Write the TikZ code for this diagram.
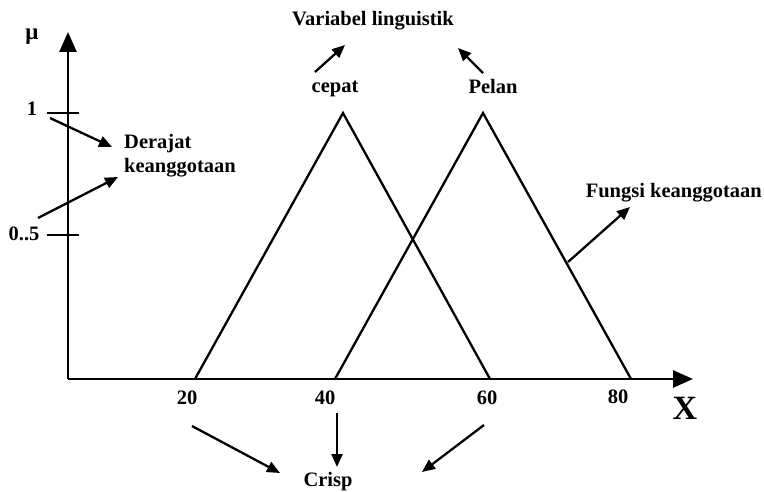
\documentclass[tikz,border=0pt]{standalone}
\usepackage{fontspec}
\setmainfont{Liberation Serif}
\usetikzlibrary{arrows.meta}
\begin{document}
\begin{tikzpicture}[x=1pt,y=-1pt,
  lbl/.style={font=\fontsize{20.5}{22}\selectfont\bfseries, inner sep=0pt},
  lblr/.style={font=\fontsize{20.5}{24}\selectfont\bfseries, inner sep=0pt, align=left},
  axisline/.style={line width=2.6pt, -{Triangle[length=20pt,width=17pt]}},
  arr/.style={line width=2.3pt, -{Triangle[length=13pt,width=11pt]}},
  mf/.style={line width=2.3pt, line join=miter},
  tickline/.style={line width=2.3pt}]
\useasboundingbox (0,0) rectangle (764,492);
% axes
\coordinate (O) at (68,379);
\coordinate (Ytip) at (68,32);
\coordinate (Xtip) at (693,379);
\draw[axisline] (O) -- (Ytip);
\draw[axisline] (O) -- (Xtip);
% ticks
\coordinate (t1a) at (47,113);
\coordinate (t1b) at (79,113);
\coordinate (t2a) at (47,235);
\coordinate (t2b) at (79,235);
\draw[tickline] (t1a) -- (t1b);
\draw[tickline] (t2a) -- (t2b);
% membership functions
\coordinate (a1) at (195,379);
\coordinate (p1) at (343,113);
\coordinate (b1) at (490,379);
\coordinate (a2) at (335,379);
\coordinate (p2) at (483,113);
\coordinate (b2) at (631,379);
\draw[mf] (a1) -- (p1) -- (b1);
\draw[mf] (a2) -- (p2) -- (b2);
% labels
\node[font=\fontsize{23}{24}\selectfont\bfseries, inner sep=0pt] (mu) at (32,37) {μ};
\node[lbl] (one) at (32,109) {1};
\node[lbl] (half) at (24,234) {0..5};
\node[lblr, anchor=west] (derajat) at (124,156) {Derajat\\keanggotaan};
\node[lbl] (var) at (373,21) {Variabel linguistik};
\node[lbl] (cepat) at (335,89) {cepat};
\node[lbl] (pelan) at (493,86) {Pelan};
\node[lbl, anchor=east] (fungsi) at (762,193) {Fungsi keanggotaan};
\node[lbl] (n20) at (187,398) {20};
\node[lbl] (n40) at (325,398) {40};
\node[lbl] (n60) at (487,398) {60};
\node[lbl] (n80) at (618,397) {80};
\node[font=\fontsize{34}{36}\selectfont\bfseries, inner sep=0pt] (X) at (685,408) {X};
\node[lbl] (crisp) at (328,482) {Crisp};
% annotation arrows
\coordinate (d1s) at (50,118);
\coordinate (d1e) at (112,147);
\coordinate (d2s) at (38,218);
\coordinate (d2e) at (118,177);
\draw[arr] (d1s) -- (d1e);
\draw[arr] (d2s) -- (d2e);
\coordinate (cs) at (315,72);
\coordinate (ce) at (345,45);
\coordinate (ps) at (483,73);
\coordinate (pe) at (458,48);
\draw[arr] (cs) -- (ce);
\draw[arr] (ps) -- (pe);
\coordinate (fs) at (568,262);
\coordinate (fe) at (630,207);
\draw[arr] (fs) -- (fe);
\coordinate (c1s) at (192,426);
\coordinate (c1e) at (280,473);
\coordinate (c2s) at (337,413);
\coordinate (c2e) at (337,467);
\coordinate (c3s) at (484,425);
\coordinate (c3e) at (422,472);
\draw[arr] (c1s) -- (c1e);
\draw[arr] (c2s) -- (c2e);
\draw[arr] (c3s) -- (c3e);
\end{tikzpicture}
\end{document}
